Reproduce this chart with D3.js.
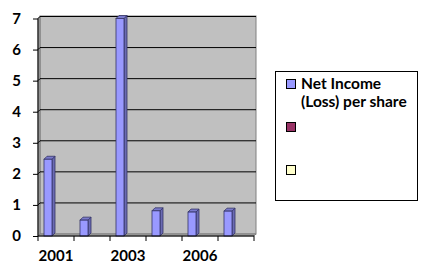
<!DOCTYPE html>
<html>
<head>
<meta charset="utf-8">
<script src="https://cdn.jsdelivr.net/npm/d3@7"></script>
<style>
  body { margin: 0; background: #fff; }
  text { font-family: Lato, "Open Sans", sans-serif; font-weight: bold; fill: #000; }
</style>
</head>
<body>
<svg width="426" height="272"></svg>
<script>
const years   = ["2001", "2002", "2003", "2004", "2006", "2007"],
      shown   = ["2001", "2003", "2006"],
      series  = ["Net Income (Loss) per share", "", ""],
      colors  = ["#9999ff", "#993366", "#ffffcc"],
      netIncome = [2.47, 0.51, 7.0, 0.81, 0.77, 0.80],
      yTicks  = [0, 1, 2, 3, 4, 5, 6, 7]

const svg = d3.select("svg"),
      dx = 2, dy = 2,       // wall depth
      bx = 3, by = 3        // bar depth

const x0 = d3.scaleBand().domain(years).range([38, 254]),
      x1 = d3.scaleBand().domain(d3.range(series.length)).range([6, 30]),
      y  = d3.scaleLinear().domain([0, 7]).range([236, 18.5])

// walls
const wall = svg.append("g")
wall.append("rect")
  .attr("x", 38 + dx).attr("y", 16)
  .attr("width", 256 - 38 - dx).attr("height", y(0) - dy - 16)
  .style("fill", "#c0c0c0").style("stroke", "#808080")
// left side wall
wall.append("path")
  .attr("d", `M38,${y(7) + 1}L${38 + dx},16L${38 + dx},${y(0) - dy}L38,${y(0)}Z`)
  .style("fill", "#a6a6a6").style("stroke", "#808080")
// floor
wall.append("path")
  .attr("d", `M38,${y(0)}L${38 + dx},${y(0) - dy}L256,${y(0) - dy}L254,${y(0)}Z`)
  .style("fill", "#a6a6a6").style("stroke", "#808080")

// gridlines on the back wall
wall.selectAll(".grid")
    .data(yTicks.filter(d => d > 0))
  .enter().append("path")
    .attr("d", d => `M38,${y(d)}L${38 + dx},${y(d) - dy}L256,${y(d) - dy}`)
    .style("fill", "none").style("stroke", "#000").style("stroke-width", 1)

// bars
const bars = svg.selectAll(".bar")
    .data(netIncome)
  .enter().append("g")

bars.each(function(v, i) {
  const g = d3.select(this),
        xl = x0(years[i]) + x1(0),
        w = x1.bandwidth(),
        yt = y(v), yb = y(0)
  g.append("path")
    .attr("d", `M${xl + w},${yt}L${xl + w + bx},${yt - by}L${xl + w + bx},${yb - by}L${xl + w},${yb}Z`)
    .style("fill", "#6b6bb3").style("stroke", "#333366").style("stroke-width", 0.8)
  g.append("path")
    .attr("d", `M${xl},${yt}L${xl + bx},${yt - by}L${xl + w + bx},${yt - by}L${xl + w},${yt}Z`)
    .style("fill", "#7a7acc").style("stroke", "#333366").style("stroke-width", 0.8)
  g.append("rect")
    .attr("x", xl).attr("y", yt).attr("width", w).attr("height", yb - yt)
    .style("fill", colors[0]).style("stroke", "#333366").style("stroke-width", 0.8)
})

// axes
const yAxis = svg.append("g")
  .attr("transform", "translate(38,0)")
  .call(d3.axisLeft(y).tickValues(yTicks).tickSize(5).tickPadding(12).tickFormat(d3.format("d")))
yAxis.select(".domain").attr("d", `M0,${y(7)}V${y(0)}`)
yAxis.selectAll("text").style("font-size", "15px")

const xAxis = svg.append("g")
  .attr("transform", `translate(0,${y(0)})`)
  .call(d3.axisBottom(x0).tickSize(0).tickFormat(d => shown.includes(d) ? d : ""))
xAxis.select(".domain").remove()
xAxis.selectAll("text").attr("y", 14).style("font-size", "15px")
xAxis.selectAll(".edge")
    .data(years.concat(["end"]))
  .enter().append("line")
    .attr("x1", (d, i) => 38 + i * x0.step()).attr("x2", (d, i) => 38 + i * x0.step())
    .attr("y1", 0).attr("y2", 5)
    .style("stroke", "#000")
xAxis.append("line").attr("x1", 38).attr("x2", 254).style("stroke", "#000")

// legend
const legend = svg.append("g")
legend.append("rect")
  .attr("x", 275.5).attr("y", 71.5).attr("width", 142).attr("height", 129)
  .style("fill", "#fff").style("stroke", "#000")

const ly = d3.scalePoint().domain(d3.range(series.length)).range([79, 165])
legend.selectAll(".sw")
    .data(series)
  .enter().append("rect")
    .attr("x", 286.5).attr("y", (d, i) => ly(i) + 0.5)
    .attr("width", 9).attr("height", 9)
    .style("fill", (d, i) => colors[i]).style("stroke", "#000")

legend.append("text")
  .attr("x", 301).attr("y", 88.5)
  .style("font-size", "15.5px")
  .selectAll("tspan")
    .data(["Net Income", "(Loss) per share"])
  .enter().append("tspan")
    .attr("x", 301).attr("dy", (d, i) => i ? 18 : 0)
    .text(d => d)
</script>
</body>
</html>
